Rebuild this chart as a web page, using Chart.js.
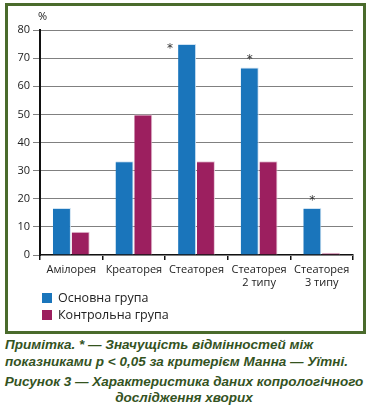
<!DOCTYPE html>
<html>
<head>
<meta charset="utf-8">
<script src="https://cdn.jsdelivr.net/npm/chart.js@4"></script>
<style>
  body { margin: 0; width: 368px; height: 411px; background: #fff; position: relative; overflow: hidden; font-family: 'Open Sans', sans-serif; }
  #frame { position: absolute; left: 5px; top: 3px; width: 355px; height: 325px; border: 3px solid #4a6b2c; }
  #wrap { position: absolute; left: 0; top: 0; width: 355px; height: 285px; }
  #legend { position: absolute; left: 34px; top: 283px; font-size: 12.5px; color: #222; }
  #legend div { height: 17px; line-height: 17px; display: flex; align-items: center; }
  #legend span.box { width: 10px; height: 10px; margin-right: 6px; display: inline-block; }
  .cap { position: absolute; font-family: 'Liberation Sans', Arial, sans-serif; font-weight: bold; font-style: italic; font-size: 13.5px; color: #34531f; line-height: 17px; }
</style>
</head>
<body>
<div id="frame">
  <div id="wrap"><canvas id="chart"></canvas></div>
  <div id="legend"></div>
</div>
<div class="cap" style="left:5px; top:336px;">Примітка. * — Значущість відмінностей між<br>показниками p &lt; 0,05 за критерієм Манна — Уїтні.</div>
<div class="cap" style="left:0; width:368px; text-align:center; top:374px; line-height:16px;">Рисунок 3 — Характеристика даних копрологічного<br>дослідження хворих</div>
<script>
const categories = ['Амілорея', 'Креаторея', 'Стеаторея', ['Стеаторея', '2 типу'], ['Стеаторея', '3 типу']]
const mainGroup = [16.7, 33.3, 75, 66.7, 16.7]
const controlGroup = [8.3, 50, 33.3, 33.3, 0.8]
const significant = [false, false, true, true, true]
const yTicks = [0, 10, 20, 30, 40, 50, 60, 70, 80]

const seriesLabels = ['Основна група', 'Контрольна група']
const seriesColors = ['#1a75bb', '#9c1f5f']

// asterisks over the blue bars where the difference is significant
const starPlugin = {
  id: 'stars',
  afterDatasetsDraw(chart) {
    const meta = chart.getDatasetMeta(0)
    const ctx = chart.ctx
    ctx.save()
    ctx.fillStyle = '#333'
    ctx.font = '12px "DejaVu Sans"'
    ctx.textAlign = 'center'
    significant.forEach((s, i) => {
      if (!s) return
      const bar = meta.data[i]
      let x = bar.x
      let y = bar.y - 4
      if (i === 2) { x = bar.x - bar.width * 0.95; y = bar.y + 8 }
      ctx.fillText('*', x, y)
    })
    // % label over the y axis
    ctx.fillStyle = '#222'
    ctx.font = '11px "Open Sans"'
    ctx.textAlign = 'left'
    ctx.fillText('%', chart.chartArea.left - 2, chart.chartArea.top - 10)
    ctx.restore()
  }
}

const ctx = document.getElementById('chart')
new Chart(ctx, {
  type: 'bar',
  data: {
    labels: categories,
    datasets: [
      { label: seriesLabels[0], data: mainGroup, backgroundColor: seriesColors[0], borderColor: '#cfe3f3', borderWidth: { top: 1, right: 1 }, borderSkipped: 'bottom' },
      { label: seriesLabels[1], data: controlGroup, backgroundColor: seriesColors[1], borderColor: '#e6c6d6', borderWidth: { top: 1, right: 1 }, borderSkipped: 'bottom' }
    ]
  },
  plugins: [starPlugin],
  options: {
    responsive: true,
    maintainAspectRatio: false,
    animation: false,
    layout: { padding: { top: 24, right: 10, left: 0, bottom: 0 } },
    plugins: { legend: { display: false }, tooltip: { enabled: false } },
    datasets: { bar: { categoryPercentage: 0.6, barPercentage: 0.96 } },
    scales: {
      x: {
        grid: { display: true, offset: true, drawOnChartArea: false, color: '#111', tickLength: 5, lineWidth: 1.5 },
        border: { color: '#111', width: 2, z: -1 },
        ticks: { color: '#222', font: { family: 'Open Sans', size: 11 }, padding: 3, maxRotation: 0, autoSkip: false },
        afterFit(scale) { scale.height = 36 }
      },
      y: {
        min: 0,
        max: 80,
        afterBuildTicks(scale) { scale.ticks = yTicks.map(v => ({ value: v })) },
        grid: { color: '#808080', lineWidth: 1, tickLength: 7 },
        border: { color: '#111', width: 2 },
        ticks: { color: '#222', font: { family: 'Open Sans', size: 11 }, padding: 3 },
        afterFit(scale) { scale.width = 32 }
      }
    }
  }
})

const legend = document.getElementById('legend')
seriesLabels.forEach((l, i) => {
  const row = document.createElement('div')
  row.innerHTML = '<span class="box" style="background:' + seriesColors[i] + '"></span>' + l
  legend.appendChild(row)
})
</script>
</body>
</html>
